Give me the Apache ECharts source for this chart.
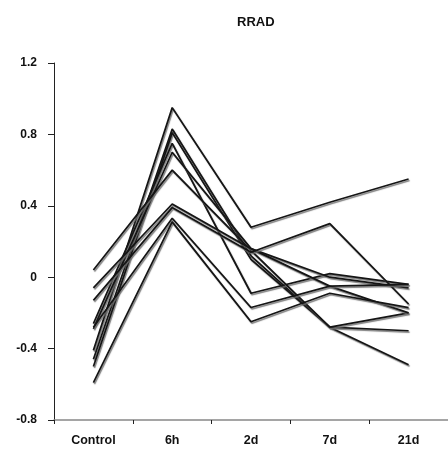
<!DOCTYPE html>
<html>
<head>
<meta charset="utf-8">
<script src="https://cdn.jsdelivr.net/npm/echarts@6/dist/echarts.min.js"></script>
<style>
  html, body { margin: 0; padding: 0; background: #fff; }
  #chart { width: 448px; height: 454px; }
</style>
</head>
<body>
<div id="chart"></div>
<script>
// 类别与刻度
const categories = ['Control', '6h', '2d', '7d', '21d'];
const yTicks = [-0.8, -0.4, 0, 0.4, 0.8, 1.2];

// 各条曲线 (Control, 6h, 2d, 7d, 21d)
const line1 = [-0.41, 0.95, 0.28, 0.42, 0.55];
const line2 = [-0.46, 0.83, 0.12, -0.28, -0.49];
const line3 = [-0.50, 0.81, 0.10, -0.28, -0.30];
const line4 = [-0.26, 0.75, -0.09, 0.02, -0.04];
const line5 = [-0.29, 0.70, 0.16, 0.00, -0.06];
const line6 = [0.04, 0.60, 0.15, -0.28, -0.20];
const line7 = [-0.06, 0.41, 0.16, -0.05, -0.20];
const line8 = [-0.13, 0.39, 0.14, 0.30, -0.15];
const line9 = [-0.28, 0.33, -0.17, -0.05, -0.04];
const line10 = [-0.59, 0.31, -0.25, -0.09, -0.17];
const lines = [line1, line2, line3, line4, line5, line6, line7, line8, line9, line10];

document.addEventListener('DOMContentLoaded', function() {
    const myChart = echarts.init(document.getElementById('chart'));

    const font = 'Liberation Sans, Arial, sans-serif';

    const option = {
        animation: false,
        title: {
            text: 'RRAD',
            left: 232,
            top: 11,
            textStyle: {
                fontFamily: font,
                fontSize: 13,
                fontWeight: 'bold',
                color: '#111'
            }
        },
        grid: {
            left: 54,
            right: 0,
            top: 63,
            bottom: 34
        },
        xAxis: {
            type: 'category',
            data: categories,
            boundaryGap: true,
            axisLine: {
                onZero: false,
                lineStyle: { color: '#888', width: 1.5 }
            },
            axisTick: {
                show: true,
                length: 4,
                lineStyle: { color: '#222' }
            },
            axisLabel: {
                margin: 14,
                fontFamily: font,
                fontSize: 12.5,
                fontWeight: 'bold',
                color: '#111'
            },
            splitLine: { show: false }
        },
        yAxis: {
            type: 'value',
            min: yTicks[0],
            max: yTicks[yTicks.length - 1],
            interval: 0.4,
            axisLine: {
                show: true,
                lineStyle: { color: '#222', width: 1 }
            },
            axisTick: {
                show: true,
                length: 6,
                lineStyle: { color: '#222' }
            },
            axisLabel: {
                margin: 17,
                fontFamily: font,
                fontSize: 12,
                fontWeight: 'bold',
                color: '#111',
                formatter: function(v) {
                    return String(Math.round(v * 10) / 10);
                }
            },
            splitLine: { show: false }
        },
        series: lines.map(function(d) {
            return {
                type: 'line',
                data: d,
                symbol: 'none',
                lineStyle: {
                    color: '#151515',
                    width: 1.7,
                    shadowColor: 'rgba(110,110,110,0.9)',
                    shadowBlur: 1,
                    shadowOffsetX: 1,
                    shadowOffsetY: 1.5
                }
            };
        })
    };

    myChart.setOption(option);

    window.addEventListener('resize', function() {
        myChart.resize();
    });
});
</script>
</body>
</html>
